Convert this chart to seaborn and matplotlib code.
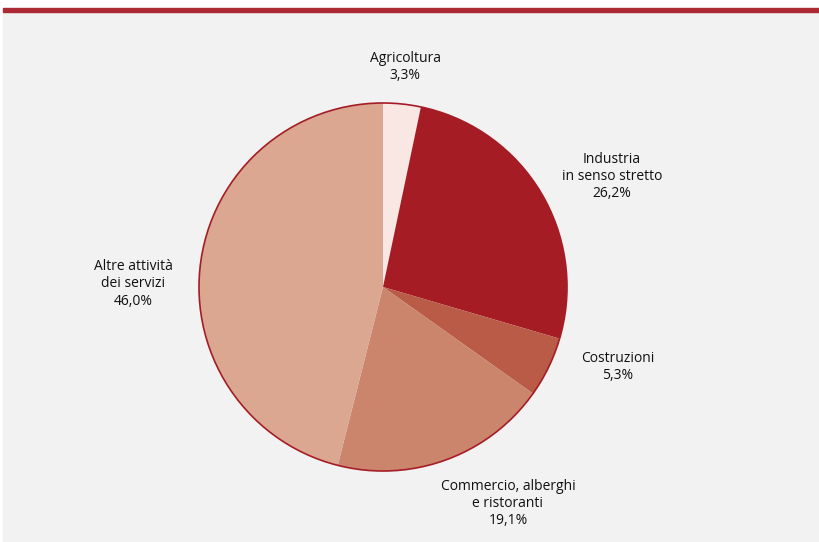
import matplotlib
matplotlib.use("Agg")
import matplotlib.pyplot as plt
from matplotlib.patches import Rectangle, Circle
import seaborn as sns

# Employment shares by sector
sectors = ["Agricoltura", "Industria\nin senso stretto", "Costruzioni",
           "Commercio, alberghi\ne ristoranti", "Altre attività\ndei servizi"]
shares = [3.3, 26.2, 5.3, 19.1, 46.0]
colors = ["#f8e7e2", "#a51c24", "#b95b47", "#cb856c", "#dba791"]

sns.set_theme(style="white")
plt.rcParams["font.family"] = ["Open Sans", "DejaVu Sans"]

W, H = 820, 542
fig = plt.figure(figsize=(W / 100, H / 100), dpi=100)
fig.patch.set_facecolor("white")

# panel background and top rule
fig.add_artist(Rectangle((3 / W, 0), 1 - 3 / W, (H - 12) / H,
                         transform=fig.transFigure, color="#f2f2f2", zorder=0))
fig.add_artist(Rectangle((3 / W, (H - 12) / H), 1 - 3 / W, 4 / H,
                         transform=fig.transFigure, color="#ac2a33", zorder=1))

cx, cy, r = 383, 287, 184
ax = fig.add_axes([(cx - r) / W, (H - cy - r) / H, 2 * r / W, 2 * r / H])
ax.set_facecolor("none")

wedges, _ = ax.pie(shares, colors=colors, startangle=90, counterclock=False,
                   radius=1, wedgeprops=dict(linewidth=0))
for w in wedges:
    w.set_clip_on(False)
ax.add_patch(Circle((0, 0), 1, fill=False, edgecolor="#a51c24",
                    linewidth=1.2, clip_on=False))
ax.set_xlim(-1, 1)
ax.set_ylim(-1, 1)
ax.set_aspect("equal")
ax.axis("off")

label_pos = [(0.12, 1.195), (1.245, 0.60), (1.277, -0.434),
             (0.679, -1.178), (-1.359, 0.017)]
for name, v, (lx, ly) in zip(sectors, shares, label_pos):
    txt = f"{name}\n{v:.1f}".replace(".", ",") + "%"
    ax.text(lx, ly, txt, ha="center", va="center", fontsize=10,
            color="#111111", linespacing=1.2, clip_on=False)

fig.savefig("out.png", dpi=100, facecolor=fig.get_facecolor())
